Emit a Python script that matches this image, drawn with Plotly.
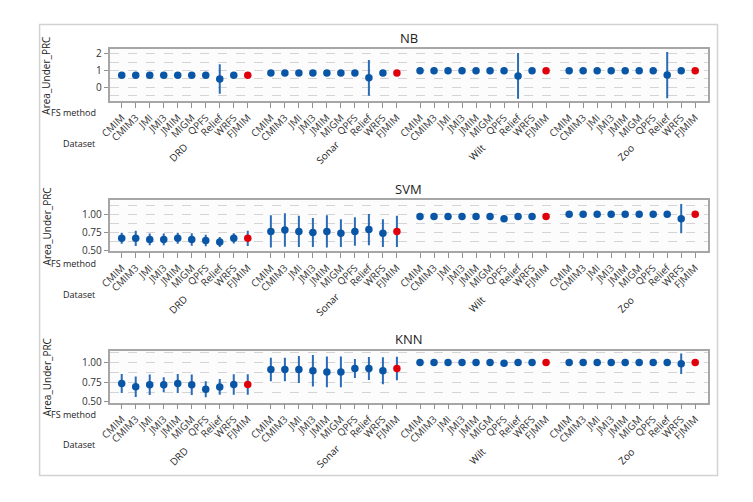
import plotly.graph_objects as go

methods = ["CMIM", "CMIM3", "JMI", "JMI3", "JMIM", "MIGM", "QPFS", "Relief", "WRFS", "FJMIM"]
datasets = ["DRD", "Sonar", "Wilt", "Zoo"]
classifiers = ["NB", "SVM", "KNN"]

# mean Area_Under_PRC per dataset (order of methods above)
nb_mean = {
    "DRD":   [0.72, 0.72, 0.72, 0.72, 0.72, 0.72, 0.72, 0.50, 0.72, 0.72],
    "Sonar": [0.86, 0.86, 0.86, 0.86, 0.86, 0.86, 0.86, 0.57, 0.86, 0.86],
    "Wilt":  [0.99, 0.99, 0.99, 0.99, 0.99, 0.99, 0.99, 0.68, 0.99, 0.99],
    "Zoo":   [0.99, 0.99, 0.99, 0.99, 0.99, 0.99, 0.99, 0.73, 0.99, 0.99],
}
nb_err = {
    "DRD":   [0.05, 0.05, 0.05, 0.05, 0.05, 0.05, 0.05, 0.87, 0.05, 0.05],
    "Sonar": [0.10, 0.10, 0.10, 0.10, 0.10, 0.10, 0.10, 1.06, 0.10, 0.10],
    "Wilt":  [0.01, 0.01, 0.01, 0.01, 0.01, 0.01, 0.01, 1.36, 0.01, 0.01],
    "Zoo":   [0.02, 0.02, 0.02, 0.02, 0.02, 0.02, 0.02, 1.37, 0.02, 0.02],
}
svm_mean = {
    "DRD":   [0.67, 0.67, 0.655, 0.655, 0.67, 0.655, 0.64, 0.62, 0.67, 0.67],
    "Sonar": [0.765, 0.785, 0.765, 0.75, 0.765, 0.74, 0.765, 0.79, 0.74, 0.765],
    "Wilt":  [0.97, 0.97, 0.97, 0.97, 0.97, 0.97, 0.94, 0.97, 0.97, 0.97],
    "Zoo":   [1.0, 1.0, 1.0, 1.0, 1.0, 1.0, 1.0, 1.0, 0.94, 1.0],
}
svm_err = {
    "DRD":   [0.075, 0.105, 0.08, 0.08, 0.075, 0.085, 0.08, 0.07, 0.07, 0.105],
    "Sonar": [0.22, 0.23, 0.215, 0.20, 0.22, 0.19, 0.195, 0.215, 0.19, 0.215],
    "Wilt":  [0.01, 0.01, 0.01, 0.01, 0.01, 0.01, 0.01, 0.01, 0.01, 0.01],
    "Zoo":   [0.0, 0.0, 0.0, 0.0, 0.0, 0.0, 0.0, 0.0, 0.20, 0.0],
}
knn_mean = {
    "DRD":   [0.734, 0.693, 0.717, 0.717, 0.734, 0.717, 0.66, 0.69, 0.72, 0.72],
    "Sonar": [0.91, 0.91, 0.91, 0.894, 0.88, 0.88, 0.923, 0.923, 0.894, 0.923],
    "Wilt":  [1.0, 1.0, 1.0, 1.0, 1.0, 1.0, 0.99, 1.0, 1.0, 1.0],
    "Zoo":   [1.0, 1.0, 1.0, 1.0, 1.0, 1.0, 1.0, 1.0, 0.984, 1.0],
}
knn_err = {
    "DRD":   [0.12, 0.13, 0.13, 0.095, 0.12, 0.13, 0.10, 0.10, 0.13, 0.13],
    "Sonar": [0.15, 0.15, 0.17, 0.20, 0.195, 0.195, 0.12, 0.145, 0.17, 0.15],
    "Wilt":  [0.005, 0.005, 0.005, 0.005, 0.005, 0.005, 0.005, 0.005, 0.005, 0.005],
    "Zoo":   [0.0, 0.0, 0.0, 0.0, 0.0, 0.0, 0.0, 0.0, 0.13, 0.0],
}

means = {"NB": nb_mean, "SVM": svm_mean, "KNN": knn_mean}
errs = {"NB": nb_err, "SVM": svm_err, "KNN": knn_err}

GAP = 1.65
W, H = 753, 502
BLUE = "#0a56a6"
BAR = "#2b6cb6"
RED = "#e0000c"
FONT = "Open Sans"

def xpos(g, i):
    return g * (9 + GAP) + i

panels = {  # pixel top, bottom of plot area
    "NB": (47, 100, [-0.82, 2.27], 1, 0.5, None),
    "SVM": (201, 253, [0.49, 1.19], 0.25, 0.125, ".2f"),
    "KNN": (354, 407, [0.49, 1.149], 0.25, 0.125, ".2f"),
}
title_y = {"NB": 36, "SVM": 189, "KNN": 342}
fs_y = {"NB": 111, "SVM": 265, "KNN": 419}
ds_y = {"NB": 143, "SVM": 297, "KNN": 450}
dsname_y = {"NB": 152, "SVM": 307, "KNN": 461}

fig = go.Figure()
tickvals, ticktext = [], []
for g, d in enumerate(datasets):
    for i, m in enumerate(methods):
        tickvals.append(xpos(g, i))
        ticktext.append(m)

annotations = []
for k, c in enumerate(classifiers):
    sfx = "" if k == 0 else str(k + 1)
    xs_b, ys_b, es_b, xs_r, ys_r, es_r = [], [], [], [], [], []
    for g, d in enumerate(datasets):
        for i, m in enumerate(methods):
            if m == "FJMIM":
                xs_r.append(xpos(g, i)); ys_r.append(means[c][d][i]); es_r.append(errs[c][d][i])
            else:
                xs_b.append(xpos(g, i)); ys_b.append(means[c][d][i]); es_b.append(errs[c][d][i])
    for xs, ys, es, col in [(xs_b, ys_b, es_b, BLUE), (xs_r, ys_r, es_r, RED)]:
        fig.add_trace(go.Scatter(
            x=xs, y=ys, mode="markers", xaxis="x" + sfx, yaxis="y" + sfx,
            marker=dict(color=col, size=7.5),
            error_y=dict(type="data", array=es, visible=True, color=BAR, thickness=2, width=0),
            showlegend=False, cliponaxis=True))
    top, bot, yr, dt, mdt, fmt = panels[c]
    dom = [1 - bot / H, 1 - top / H]
    xa = dict(domain=[100 / W, 707 / W], range=[-0.87, xpos(3, 9) + 0.89],
              tickvals=tickvals, ticktext=ticktext, tickangle=-45,
              ticks="outside", ticklen=5, tickcolor="#909090",
              tickfont=dict(family=FONT, size=10, color="#333333"),
              showline=True, linecolor="#a6a6a6", linewidth=1.5, mirror=True,
              showgrid=False, zeroline=False, anchor="y" + sfx)
    ya = dict(domain=dom, range=yr, dtick=dt, tick0=0, tickformat=fmt,
              ticks="outside", ticklen=4, tickcolor="#909090",
              tickfont=dict(family=FONT, size=10, color="#333333"),
              showline=True, linecolor="#a6a6a6", linewidth=1.5, mirror=True,
              showgrid=True, gridcolor="#d4d4d4", griddash="dash", gridwidth=1,
              minor=dict(dtick=mdt, tick0=0, showgrid=True, gridcolor="#d4d4d4",
                         griddash="dash", gridwidth=1),
              zeroline=False, anchor="x" + sfx)
    fig.update_layout(**{"xaxis" + sfx: xa, "yaxis" + sfx: ya})

    annotations.append(dict(text=c, x=403.5 / W, y=1 - title_y[c] / H, xref="paper", yref="paper",
                            showarrow=False, font=dict(family=FONT, size=13, color="#222222"),
                            xanchor="center", yanchor="middle"))
    annotations.append(dict(text="Area_Under_PRC", x=36 / W, y=1 - (top + bot) / 2 / H,
                            xref="paper", yref="paper", textangle=-90, showarrow=False,
                            font=dict(family=FONT, size=10, color="#222222"),
                            xanchor="center", yanchor="middle"))
    annotations.append(dict(text="FS method", x=88 / W, y=1 - fs_y[c] / H, xref="paper", yref="paper",
                            showarrow=False, font=dict(family=FONT, size=9, color="#222222"),
                            xanchor="right", yanchor="middle"))
    annotations.append(dict(text="Dataset", x=87 / W, y=1 - ds_y[c] / H, xref="paper", yref="paper",
                            showarrow=False, font=dict(family=FONT, size=9, color="#222222"),
                            xanchor="right", yanchor="middle"))
    for g, d in enumerate(datasets):
        annotations.append(dict(text=d, x=(xpos(g, 0) + xpos(g, 9)) / 2, xref="x" + sfx,
                                y=1 - dsname_y[c] / H, yref="paper", textangle=-45,
                                showarrow=False, xshift=-6,
                                font=dict(family=FONT, size=10, color="#222222"),
                                xanchor="center", yanchor="middle"))

fig.update_layout(
    width=W, height=H, margin=dict(l=0, r=0, t=0, b=0),
    paper_bgcolor="white", plot_bgcolor="#fcfcfc",
    annotations=annotations,
    shapes=[dict(type="rect", xref="paper", yref="paper", x0=29 / W, x1=717 / W,
                 y0=1 - 481 / H, y1=1 - 22 / H, line=dict(color="#d2d2d2", width=1.5))],
)
fig.write_html("out.html", config={"displayModeBar": False},
               post_script="document.body.style.margin='0';document.body.style.overflow='hidden';")
